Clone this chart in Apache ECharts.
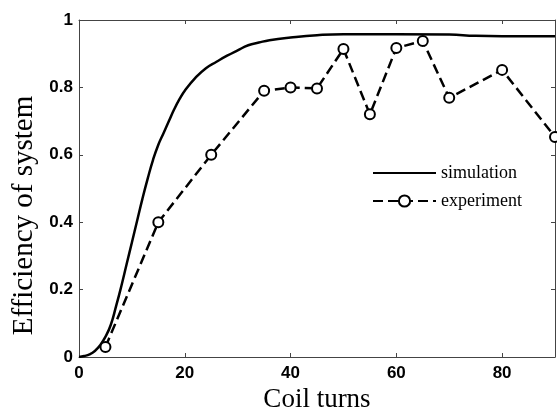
<!DOCTYPE html>
<html>
<head>
<meta charset="utf-8">
<script src="https://cdn.jsdelivr.net/npm/echarts@6/dist/echarts.min.js"></script>
<style>
  html, body { margin: 0; padding: 0; background: #fff; }
  #chart { width: 557px; height: 410px; }
</style>
</head>
<body>
<div id="chart"></div>
<script>
// simulation curve
const simTurns = [0, 1, 2, 3, 4, 5, 6, 7, 8, 9, 10, 11, 12, 13, 14, 15, 16, 17, 18, 19, 20, 22, 24, 26, 28, 30, 32, 34, 36, 40, 45, 50, 60, 70, 75, 80, 90];
const simEff = [0, 0.003, 0.008, 0.018, 0.035, 0.06, 0.095, 0.15, 0.21, 0.275, 0.34, 0.405, 0.47, 0.53, 0.585, 0.63, 0.665, 0.70, 0.735, 0.765, 0.79, 0.828, 0.857, 0.876, 0.894, 0.91, 0.925, 0.933, 0.94, 0.948, 0.955, 0.958, 0.958, 0.957, 0.953, 0.952, 0.952];

// experiment points
const expTurns = [5, 15, 25, 35, 40, 45, 50, 55, 60, 65, 70, 80, 90];
const expEff = [0.03, 0.40, 0.60, 0.79, 0.80, 0.797, 0.914, 0.72, 0.917, 0.938, 0.769, 0.852, 0.653];

const xTicks = [0, 20, 40, 60, 80];
const yTicks = [0, 0.2, 0.4, 0.6, 0.8, 1];

const zip = (a, b) => a.map((v, i) => [v, b[i]]);

const tickFont = {
  color: '#000',
  fontSize: 17,
  fontWeight: 'bold',
  fontFamily: '"Liberation Sans", Arial, sans-serif'
};
const axisLine = { show: true, onZero: false, lineStyle: { color: '#444', width: 1 } };
const axisTick = { show: true, inside: true, length: 4, lineStyle: { color: '#444' } };
const serif = '"Liberation Serif", "Times New Roman", serif';

const chart = echarts.init(document.getElementById('chart'));
chart.setOption({
  animation: false,
  grid: { left: 79, top: 20, right: 2, bottom: 53, containLabel: false, outerBoundsMode: 'none' },
  legend: {
    orient: 'vertical',
    left: 367,
    top: 159,
    itemWidth: 63,
    itemHeight: 14,
    itemGap: 10,
    textStyle: { color: '#000', fontSize: 18, fontFamily: serif },
    data: [
      { name: 'simulation', itemStyle: { opacity: 0 } },
      { name: 'experiment' }
    ]
  },
  xAxis: [
    {
      type: 'value', min: 0, max: 90, interval: 20, position: 'bottom',
      name: 'Coil turns', nameLocation: 'middle', nameGap: 27,
      nameTextStyle: { color: '#000', fontSize: 27, fontFamily: serif },
      axisLine, axisTick,
      axisLabel: Object.assign({ margin: 8, showMaxLabel: false,
        formatter: v => xTicks.includes(v) ? String(v) : '' }, tickFont),
      splitLine: { show: false }
    },
    {
      type: 'value', min: 0, max: 90, interval: 20, position: 'top',
      axisLine, axisTick, axisLabel: { show: false }, splitLine: { show: false }
    }
  ],
  yAxis: [
    {
      type: 'value', min: 0, max: 1, interval: 0.2, position: 'left',
      name: 'Efficiency of system', nameLocation: 'middle', nameGap: 40,
      nameTextStyle: { color: '#000', fontSize: 29, fontFamily: serif, padding: [0, 54, 0, 0] },
      axisLine, axisTick,
      axisLabel: Object.assign({ margin: 6,
        formatter: v => yTicks.some(t => Math.abs(t - v) < 1e-9) ? String(+v.toFixed(1)) : '' }, tickFont),
      splitLine: { show: false }
    },
    {
      type: 'value', min: 0, max: 1, interval: 0.2, position: 'right',
      axisLine, axisTick, axisLabel: { show: false }, splitLine: { show: false }
    }
  ],
  series: [
    {
      name: 'simulation',
      type: 'line',
      smooth: true,
      showSymbol: false,
      symbol: 'none',
      data: zip(simTurns, simEff),
      lineStyle: { color: '#000', width: 2.5 },
      itemStyle: { color: '#000' }
    },
    {
      name: 'experiment',
      type: 'line',
      data: zip(expTurns, expEff),
      symbol: 'circle',
      symbolSize: 10,
      lineStyle: { color: '#000', width: 2.5, type: [10, 5] },
      itemStyle: { color: '#fff', borderColor: '#000', borderWidth: 2 }
    }
  ]
});
</script>
</body>
</html>
